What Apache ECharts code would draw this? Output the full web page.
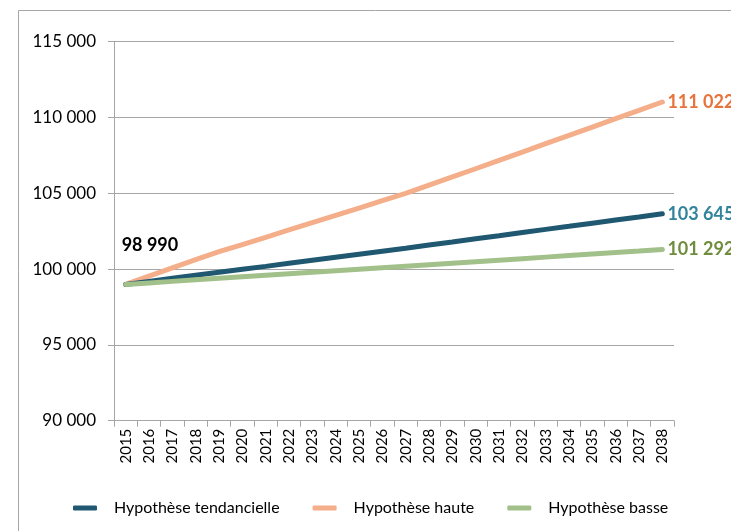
<!DOCTYPE html>
<html>
<head>
<meta charset="utf-8">
<script src="https://cdn.jsdelivr.net/npm/echarts@6/dist/echarts.min.js"></script>
<style>
  html, body { margin: 0; padding: 0; background: #fff; }
  #chart { width: 731px; height: 531px; }
</style>
</head>
<body>
<div id="chart"></div>
<script>
var years = ["2015","2016","2017","2018","2019","2020","2021","2022","2023","2024","2025","2026",
  "2027","2028","2029","2030","2031","2032","2033","2034","2035","2036","2037","2038"];

var tendancielle = [98990, 99190, 99390, 99590, 99790, 99990, 100180, 100380, 100580, 100780, 100980, 101180,
  101380, 101590, 101790, 102000, 102200, 102410, 102620, 102820, 103030, 103240, 103440, 103645];
var haute = [98990, 99540, 100080, 100620, 101150, 101620, 102100, 102580, 103060, 103540, 104020, 104510,
  105000, 105540, 106080, 106620, 107170, 107720, 108270, 108820, 109370, 109920, 110470, 111022];
var basse = [98990, 99090, 99190, 99290, 99390, 99490, 99590, 99690, 99790, 99890, 99990, 100090,
  100190, 100290, 100390, 100490, 100590, 100690, 100790, 100890, 100990, 101090, 101190, 101292];

var names = ["Hypothèse tendancielle", "Hypothèse haute", "Hypothèse basse"];
var lineColors = ["#1f5870", "#f4ae8a", "#a2c08a"];
var labelColors = ["#31849b", "#e8733a", "#6f8d3c"];

function fmt(v) {
  return String(v).replace(/\B(?=(\d{3})+(?!\d))/g, " ");
}

// etiquette sur le dernier point
function withEndLabel(arr, color) {
  return arr.map(function (v, i) {
    if (i !== arr.length - 1) return v;
    return {
      value: v,
      label: {
        show: true, position: "right", distance: 5,
        color: color, fontWeight: "bold", fontSize: 18, fontFamily: "Lato",
        formatter: function (p) { return fmt(p.value); }
      }
    };
  });
}

var dataT = withEndLabel(tendancielle, labelColors[0]);
dataT[0] = {
  value: tendancielle[0],
  label: {
    show: true, position: "top", align: "left", offset: [-4, -25],
    color: "#000", fontWeight: "bold", fontSize: 18, fontFamily: "Lato",
    formatter: function (p) { return fmt(p.value); }
  }
};

var chart = echarts.init(document.getElementById("chart"));
var option = {
  animation: false,
  textStyle: { fontFamily: "Lato" },
  graphic: [{
    type: "rect",
    shape: { x: 18.5, y: 10.5, width: 800, height: 600 },
    style: { fill: "none", stroke: "#a6a6a6", lineWidth: 1 },
    silent: true
  }],
  grid: { left: 114, right: 57, top: 41.7, bottom: 110.3, containLabel: false },
  legend: {
    data: names,
    left: 68,
    top: 495,
    itemWidth: 24,
    itemHeight: 5,
    itemGap: 33,
    icon: "roundRect",
    textStyle: { fontSize: 16, color: "#000", fontFamily: "Lato", padding: [0, 0, 0, 12] }
  },
  xAxis: {
    type: "category",
    data: years,
    boundaryGap: true,
    axisLine: { lineStyle: { color: "#a6a6a6" } },
    axisTick: { show: true, length: 6, lineStyle: { color: "#a6a6a6" } },
    axisLabel: { rotate: 90, interval: 0, margin: 8, fontSize: 15, color: "#000" },
    splitLine: { show: false }
  },
  yAxis: {
    type: "value",
    min: 90000,
    max: 115000,
    interval: 5000,
    axisLine: { show: true, lineStyle: { color: "#a6a6a6" } },
    axisTick: { show: true, length: 6, lineStyle: { color: "#a6a6a6" } },
    axisLabel: { margin: 18, fontSize: 17, color: "#000", formatter: fmt },
    splitLine: { show: true, lineStyle: { color: "#a6a6a6" } }
  },
  series: [
    {
      name: names[1], type: "line", data: withEndLabel(haute, labelColors[1]),
      showSymbol: true, symbol: "circle", symbolSize: 0.1, z: 2,
      lineStyle: { color: lineColors[1], width: 5, cap: "round" },
      itemStyle: { color: lineColors[1] }
    },
    {
      name: names[0], type: "line", data: dataT,
      showSymbol: true, symbol: "circle", symbolSize: 0.1, z: 3,
      lineStyle: { color: lineColors[0], width: 5, cap: "round" },
      itemStyle: { color: lineColors[0] }
    },
    {
      name: names[2], type: "line", data: withEndLabel(basse, labelColors[2]),
      showSymbol: true, symbol: "circle", symbolSize: 0.1, z: 4,
      lineStyle: { color: lineColors[2], width: 5, cap: "round" },
      itemStyle: { color: lineColors[2] }
    }
  ]
};
chart.setOption(option);
</script>
</body>
</html>
